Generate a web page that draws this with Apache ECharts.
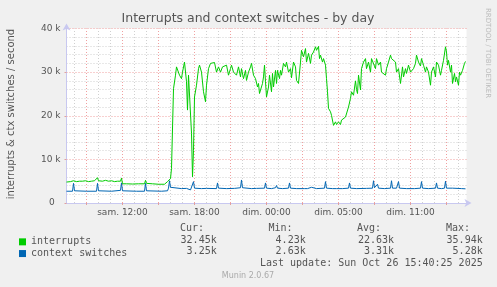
<!DOCTYPE html>
<html><head><meta charset="utf-8">
<script src="https://cdn.jsdelivr.net/npm/echarts@6/dist/echarts.min.js"></script>
<style>html,body{margin:0;padding:0;background:#F0F0F0}#c{width:497px;height:287px}</style>
</head><body><div id="c"></div>
<script>
// x values are 5-minute steps from the left edge of the graph (sam. 07:20)
const xTickSteps = [56, 128, 200, 272, 344];
const xTickLabels = ['sam. 12:00', 'sam. 18:00', 'dim. 00:00', 'dim. 05:00', 'dim. 11:00'];
const yTicks = [0, 10, 20, 30, 40];
const seriesNames = ['interrupts', 'context switches'];

// interrupts (thousands / second)
const intSteps = [0,2,4,6,7,10,13,16,19,22,25,28,30,31,32,36,39,42,45,48,51,54,55,56,60,66,72,78,79,80,86,92,98,101,104,105,107,109,110,113,115,116,118,120,121,122,124,125,126,127,128,130,132,133,135,137,139,140,142,144,146,148,150,152,154,156,158,160,162,164,165,167,169,170,172,174,175,177,179,180,182,184,185,187,188,189,191,192,193,195,196,197,198,199,200,202,203,205,206,207,209,210,211,213,214,215,217,219,220,222,224,225,227,229,230,232,234,235,237,239,240,242,244,245,247,249,250,252,253,254,256,257,259,260,261,262,264,265,267,269,270,272,274,275,277,279,280,282,284,285,287,289,290,291,292,294,295,297,299,300,302,304,305,307,309,310,312,314,315,317,319,320,322,324,325,327,329,330,332,334,335,336,337,339,340,342,344,345,347,349,350,352,354,355,357,359,360,362,364,365,367,369,370,372,374,375,377,379,380,381,382,384,385,386,388,389,390,392,393,394,396,397,398,399];
const intValues = [4.8,4.6,4.9,5.0,5.1,4.9,5.0,5.0,5.1,4.9,5.0,5.1,5.2,5.8,5.1,5.0,5.2,5.0,5.1,4.9,5.0,5.0,5.7,4.4,4.4,4.35,4.4,4.4,5.2,4.5,4.4,4.3,4.3,4.9,5.6,7.9,26.2,29.3,31.2,29.3,28.5,30,32.3,27.8,21.3,29.3,29.7,16,6.0,12,24.3,27,30.8,31.6,30,25.5,23.2,27,30.8,32,31.6,32.2,30,31.2,30,31.2,31.2,31.6,29.3,30.8,31.6,30,30.4,29.3,31.2,28.9,30.8,28.5,30.4,28.1,30,31.2,32,29.3,29.7,28.5,26.6,27.4,25.1,24.7,27.4,28.9,31.6,27.8,24.3,26.6,29.3,25.5,29.7,26.6,30.4,27.4,30.4,28.5,30.4,29.3,32,31.2,32.3,30,30.8,28.7,32.3,31.2,28.1,27.4,32.3,35,33.5,35.4,32.3,34.3,32,33.9,34.6,35.8,35,35.9,33.1,33.9,32.3,33.1,31.6,28.5,25.5,21.7,20.9,20.1,17.8,18.6,18,18.6,18,19,18.6,19.7,19.4,22,24,25.5,24.7,28,26,25.1,29.3,25.9,30.8,32.3,33.1,30.8,32.3,30,33.1,33.5,30.8,33.1,31.6,32.3,30,29.7,29.3,30.8,32.3,33.9,33.1,33.5,32.3,30,30.8,27.4,27,31.2,28.9,30.8,29.7,31.6,30,29.7,30.8,32,33.9,32.3,31.4,33.1,31.6,30,31.2,30,27,30,31.2,28.9,32.3,31.6,29.3,30.4,32.7,35.8,34.6,31.6,32.7,30,31.6,27.4,29.7,27.8,28.9,27,30,29.3,30.4,30.8,32,32.45];

// context switches (thousands / second)
const ctxSteps = [0,6,7,8,20,30,31,32,45,54,55,56,70,78,79,80,95,101,102,103,104,105,115,120,124,125,126,127,128,135,140,150,151,152,160,168,174,175,176,185,190,198,199,200,205,209,210,211,216,222,223,224,230,238,240,241,245,246,250,258,259,260,266,268,270,276,282,283,284,290,300,306,307,308,309,311,312,318,324,325,326,330,332,333,340,348,354,355,356,362,369,370,371,375,378,379,380,386,387,388,395,399];
const ctxValues = [2.7,2.7,4.5,2.8,2.7,2.7,4.5,2.8,2.7,2.9,4.6,2.8,2.7,2.7,4.5,2.8,2.7,2.8,3.4,5.1,3.6,3.3,3.3,3.35,3.0,3.2,3.4,4.9,3.4,3.3,3.35,3.3,4.6,3.4,3.3,3.35,3.5,5.28,3.5,3.3,3.35,3.4,4.6,3.4,3.3,3.5,4.0,3.4,3.3,3.4,4.6,3.4,3.3,3.3,3.7,3.3,3.6,3.3,3.3,3.4,4.9,3.4,3.3,3.6,3.3,3.3,3.4,4.6,3.4,3.3,3.35,3.4,5.1,3.5,3.4,4.3,3.4,3.3,3.4,5.1,3.4,3.4,4.9,3.4,3.3,3.3,3.4,4.9,3.4,3.3,3.4,4.6,3.4,3.3,3.4,5.0,3.4,3.4,3.7,3.3,3.3,3.25];

const statHeaders = ['Cur:', 'Min:', 'Avg:', 'Max:'];
const statInterrupts = ['32.45k', '4.23k', '22.63k', '35.94k'];
const statContext = ['3.25k', '2.63k', '3.31k', '5.28k'];
const lastUpdate = 'Last update: Sun Oct 26 15:40:25 2025';
const titleText = 'Interrupts and context switches - by day';
const yAxisTitle = 'interrupts & ctx switches / second';
const colors = ['#00CC00', '#0066B3'];

const pair = (xs, ys) => xs.map((x, i) => [x, ys[i]]);

// hour grid lines every 12 steps starting at 08:00 (step 8); major every 3 hours
const minorLines = [], majorLines = [];
for (let s = 8; s < 400; s += 12) {
  const hour = Math.round(7 + 1/3 + s / 12);
  (hour % 3 === 0 ? majorLines : minorLines).push(s);
}
const mono = '"DejaVu Sans Mono", monospace';
const sans = '"DejaVu Sans", sans-serif';

const statCols = [204, 292.5, 381, 470];   // right edges of header text
const valCols = [216.7, 305.7, 394, 482.7];
const graphics = [
  {type: 'text', x: 248, y: 19, style: {text: titleText, font: '12.5px ' + sans, fill: '#555', align: 'center', verticalAlign: 'middle'}},
  {type: 'text', x: 11, y: 114, rotation: Math.PI / 2, style: {text: yAxisTitle, font: '10px ' + sans, fill: '#555', align: 'center', verticalAlign: 'middle'}},
  {type: 'text', x: 487.5, y: 53, rotation: -Math.PI / 2, style: {text: 'RRDTOOL / TOBI OETIKER', font: '7px ' + sans, fill: '#bbb', align: 'center', verticalAlign: 'middle'}},
  {type: 'text', x: 248, y: 276, style: {text: 'Munin 2.0.67', font: '8px ' + sans, fill: '#aaa', align: 'center', verticalAlign: 'middle'}},
  {type: 'text', x: 482.7, y: 263.5, style: {text: lastUpdate, font: '10px ' + mono, fill: '#555', align: 'right', verticalAlign: 'middle'}}
];
statHeaders.forEach((t, i) => graphics.push({type: 'text', x: statCols[i], y: 228.5, style: {text: t, font: '10px ' + mono, fill: '#555', align: 'right', verticalAlign: 'middle'}}));
statInterrupts.forEach((t, i) => graphics.push({type: 'text', x: valCols[i], y: 240, style: {text: t, font: '10px ' + mono, fill: '#555', align: 'right', verticalAlign: 'middle'}}));
statContext.forEach((t, i) => graphics.push({type: 'text', x: valCols[i], y: 251.7, style: {text: t, font: '10px ' + mono, fill: '#555', align: 'right', verticalAlign: 'middle'}}));

const vline = (s) => ({xAxis: s});
const chart = echarts.init(document.getElementById('c'), null, {renderer: 'canvas'});
chart.setOption({
  animation: false,
  backgroundColor: '#F0F0F0',
  grid: {left: 66.5, right: 30.5, top: 28.5, bottom: 84, show: true, backgroundColor: '#fff', borderWidth: 0},
  legend: {
    data: seriesNames, orient: 'vertical', left: 14, top: 231, itemWidth: 7, itemHeight: 7, itemGap: 0,
    icon: 'rect', selectedMode: false,
    textStyle: {fontFamily: mono, fontSize: 10, color: '#555', lineHeight: 11.7}
  },
  xAxis: {
    type: 'value', min: 0, max: 400,
    axisLine: {show: true, lineStyle: {color: '#C8C8F0'}, symbol: ['none', 'arrow'], symbolSize: [6, 7], symbolOffset: [0, 5]},
    axisTick: {show: true, customValues: majorLines, length: 2, lineStyle: {color: '#E0A0A0'}},
    axisLabel: {customValues: xTickSteps, formatter: (v) => xTickLabels[xTickSteps.indexOf(Math.round(v))] || '', fontFamily: sans, fontSize: 9, color: '#555', margin: 5},
    splitLine: {show: false}
  },
  yAxis: {
    type: 'value', min: 0, max: 40, interval: 10,
    axisLine: {show: true, lineStyle: {color: '#C8C8F0'}, symbol: ['none', 'arrow'], symbolSize: [6, 7], symbolOffset: [0, 5]},
    axisTick: {show: true, length: 2, lineStyle: {color: '#E0A0A0'}},
    axisLabel: {formatter: (v) => v === 0 ? '0  ' : v + ' k', fontFamily: sans, fontSize: 9, color: '#555', margin: 6},
    splitLine: {show: true, lineStyle: {color: '#F0A0A0', type: [1, 2], width: 1}},
    minorTick: {show: false, splitNumber: 5},
    minorSplitLine: {show: true, lineStyle: {color: '#D0D0D0', type: [1, 2], width: 1}}
  },
  series: [
    {
      name: 'grid', type: 'line', data: [], silent: true, z: 1,
      markLine: {
        silent: true, symbol: ['none', 'none'], label: {show: false}, z: 1, animation: false,
        emphasis: {disabled: true},
        data: minorLines.map(vline).map(d => Object.assign(d, {lineStyle: {color: '#D0D0D0', type: [1, 2], width: 1}}))
          .concat(majorLines.map(vline).map(d => Object.assign(d, {lineStyle: {color: '#F0A0A0', type: [1, 2], width: 1}})))
      }
    },
    {name: seriesNames[0], type: 'line', data: pair(intSteps, intValues), showSymbol: false, z: 3,
      lineStyle: {color: colors[0], width: 1}, itemStyle: {color: colors[0]}},
    {name: seriesNames[1], type: 'line', data: pair(ctxSteps, ctxValues), showSymbol: false, z: 4,
      lineStyle: {color: colors[1], width: 1}, itemStyle: {color: colors[1]}}
  ],
  graphic: graphics
});
</script></body></html>
